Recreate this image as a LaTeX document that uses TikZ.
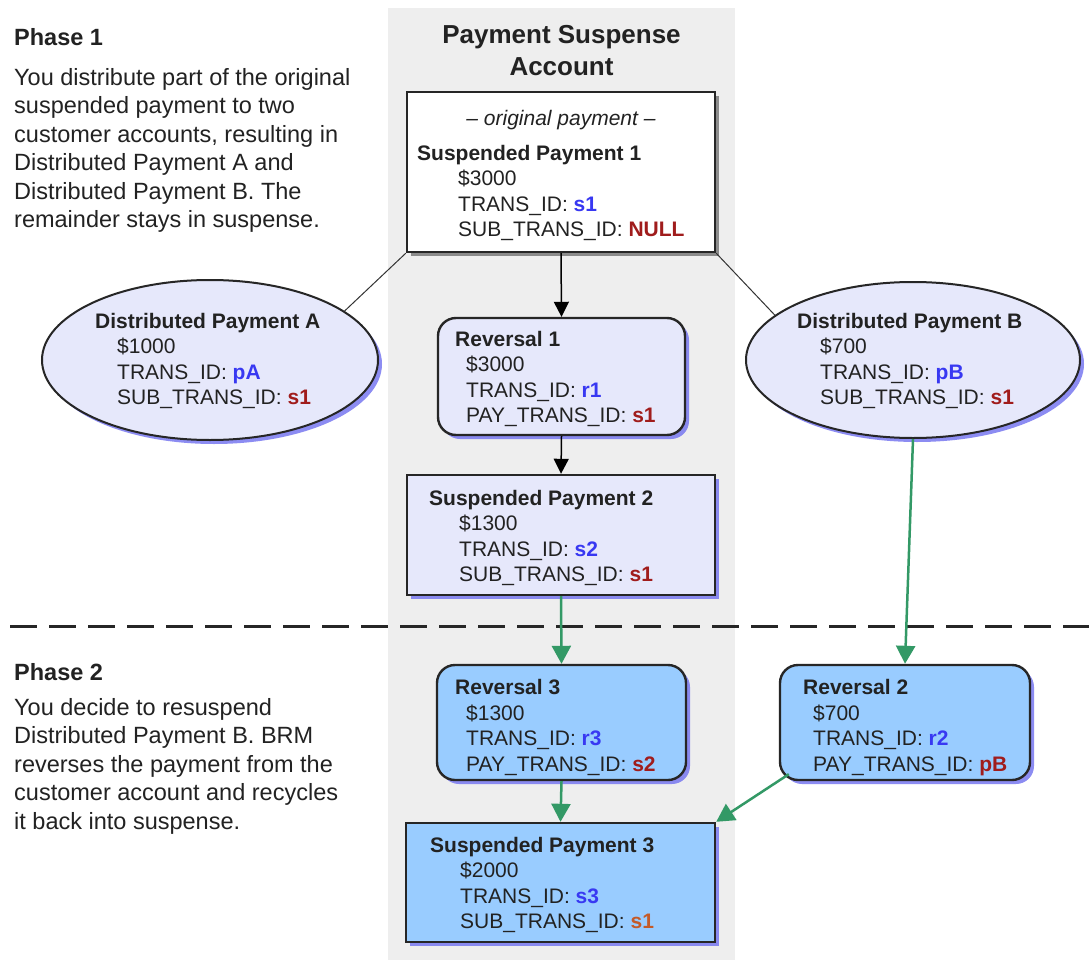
\documentclass[tikz,border=0pt]{standalone}
\usepackage{fontspec}
\setmainfont{Liberation Sans}
\usetikzlibrary{arrows.meta,shapes.geometric,shadows,calc}
\definecolor{band}{HTML}{EEEEEE}
\definecolor{lav}{HTML}{E6E8FB}
\definecolor{lblue}{HTML}{99CCFF}
\definecolor{idblue}{HTML}{3838F2}
\definecolor{idred}{HTML}{A01C1C}
\definecolor{idorange}{HTML}{C45A28}
\definecolor{arrgreen}{HTML}{339966}
\definecolor{shblue}{HTML}{7878F0}
\definecolor{txt}{HTML}{222222}
\newcommand\bxfont{\fontsize{21}{25.5}\selectfont}
\newcommand\lfont{\fontsize{23.5}{28.5}\selectfont}
\newcommand\idb[1]{\textcolor{idblue}{\bfseries #1}}
\newcommand\idr[1]{\textcolor{idred}{\bfseries #1}}
\newcommand\ido[1]{\textcolor{idorange}{\bfseries #1}}
\tikzset{
  bshadow/.style={drop shadow={shadow xshift=4pt,shadow yshift=-4pt,fill=shblue,opacity=0.85}},
  gshadow/.style={drop shadow={shadow xshift=4pt,shadow yshift=-4pt,fill=black!55,opacity=0.8}},
  sqbox/.style={draw=black!85,line width=2.4pt,inner sep=0pt},
  rndbox/.style={draw=black!85,line width=2.4pt,inner sep=0pt,rounded corners=18pt},
  ellnode/.style={ellipse,draw=black!85,line width=2pt,inner sep=0pt,fill=lav,bshadow},
  btext/.style={font=\bxfont,align=left,anchor=north west,inner sep=0pt,text=txt},
  ltext/.style={font=\lfont,align=left,anchor=north west,inner sep=0pt,text=txt},
  blkarrow/.style={line width=1.5pt,-{Triangle[length=15pt,width=15pt]}},
  grnarrow/.style={draw=arrgreen,line width=2.5pt,-{Triangle[length=18pt,width=19pt]}},
  thinline/.style={line width=1pt,draw=black!80}
}
\begin{document}
\begin{tikzpicture}[x=1pt,y=-1pt]
\useasboundingbox (0,0) rectangle (1089,963);
\fill[white] (0,0) rectangle (1089,963);
% gray band
\fill[band] (388,8) rectangle (735,960);
% titles
\node[font=\fontsize{26}{32}\selectfont\bfseries,align=center,anchor=north,inner sep=0pt,text=txt] (title) at (561.5,20.5) {\strut Payment Suspense\\Account};
% left texts
\node[ltext] (ph1) at (14,25) {\strut\textbf{Phase 1}};
\node[ltext] (ph1t) at (14,65) {\strut You distribute part of the original\\suspended payment to two\\customer accounts, resulting in\\Distributed Payment A and\\Distributed Payment B. The\\remainder stays in suspense.};
\node[ltext] (ph2) at (14,660) {\strut\textbf{Phase 2}};
\node[ltext] (ph2t) at (14,695) {\strut You decide to resuspend\\Distributed Payment B. BRM\\reverses the payment from the\\customer account and recycles\\it back into suspense.};
% dashed separator
\draw[line width=3pt,black!85,dash pattern=on 27pt off 12pt] (10,626) -- (1089,626);
% shapes
\node[sqbox,fill=white,gshadow,minimum width=308pt,minimum height=160pt] (s1) at (561,172) {};
\node[ellnode,minimum width=336pt,minimum height=160pt] (ea) at (210,360) {};
\node[ellnode,minimum width=334pt,minimum height=156pt] (eb) at (913,360) {};
\node[rndbox,fill=lav,bshadow,minimum width=247pt,minimum height=117pt] (r1) at (561.5,376.5) {};
\node[sqbox,fill=lav,bshadow,minimum width=308pt,minimum height=120pt] (s2) at (561,535) {};
\node[rndbox,fill=lblue,bshadow,minimum width=249pt,minimum height=115pt] (r3) at (561.5,722.5) {};
\node[rndbox,fill=lblue,bshadow,minimum width=250pt,minimum height=115pt] (r2) at (905,722.5) {};
\node[sqbox,fill=lblue,bshadow,minimum width=309pt,minimum height=119pt] (s3) at (560.5,882.5) {};
% texts in shapes
\node[font=\bxfont\itshape,anchor=base,inner sep=0pt,text=txt] (s1o) at (561,125) {-- original payment --};
\node[btext] (s1t) at (417,142.15) {\strut\textbf{Suspended Payment 1}\\\hspace*{41pt}\$3000\\\hspace*{41pt}TRANS\_ID: \idb{s1}\\\hspace*{41pt}SUB\_TRANS\_ID: \idr{NULL}};
\node[btext] (eat) at (95,310.15) {\strut\textbf{Distributed Payment A}\\\hspace*{22pt}\$1000\\\hspace*{22pt}TRANS\_ID: \idb{pA}\\\hspace*{22pt}SUB\_TRANS\_ID: \idr{s1}};
\node[btext] (ebt) at (797,310.15) {\strut\textbf{Distributed Payment B}\\\hspace*{23pt}\$700\\\hspace*{23pt}TRANS\_ID: \idb{pB}\\\hspace*{23pt}SUB\_TRANS\_ID: \idr{s1}};
\node[btext] (r1t) at (455,328.15) {\strut\textbf{Reversal 1}\\\hspace*{11pt}\$3000\\\hspace*{11pt}TRANS\_ID: \idb{r1}\\\hspace*{11pt}PAY\_TRANS\_ID: \idr{s1}};
\node[btext] (s2t) at (429,487.15) {\strut\textbf{Suspended Payment 2}\\\hspace*{30pt}\$1300\\\hspace*{30pt}TRANS\_ID: \idb{s2}\\\hspace*{30pt}SUB\_TRANS\_ID: \idr{s1}};
\node[btext] (r3t) at (455,676.65) {\strut\textbf{Reversal 3}\\\hspace*{11pt}\$1300\\\hspace*{11pt}TRANS\_ID: \idb{r3}\\\hspace*{11pt}PAY\_TRANS\_ID: \idr{s2}};
\node[btext] (r2t) at (803,676.65) {\strut\textbf{Reversal 2}\\\hspace*{10pt}\$700\\\hspace*{10pt}TRANS\_ID: \idb{r2}\\\hspace*{10pt}PAY\_TRANS\_ID: \idr{pB}};
\node[btext] (s3t) at (430,834.15) {\strut\textbf{Suspended Payment 3}\\\hspace*{30pt}\$2000\\\hspace*{30pt}TRANS\_ID: \idb{s3}\\\hspace*{30pt}SUB\_TRANS\_ID: \ido{s1}};
% connectors
\draw[thinline] (s1.south west) -- (ea.20);
\draw[thinline] (s1.south east) -- (eb.162);
\draw[blkarrow] (s1.south) -- (r1.north);
\draw[blkarrow] (r1.south) -- (s2.north);
\draw[grnarrow] (s2.south) -- (r3.north);
\draw[grnarrow] (eb.south) -- (r2.north);
\draw[grnarrow] (r3.south) -- (s3.north);
\coordinate (r2c) at ($(r2.south west)+(10,-7)$);
\draw[grnarrow] (r2c) -- (s3.north east);
\end{tikzpicture}
\end{document}
